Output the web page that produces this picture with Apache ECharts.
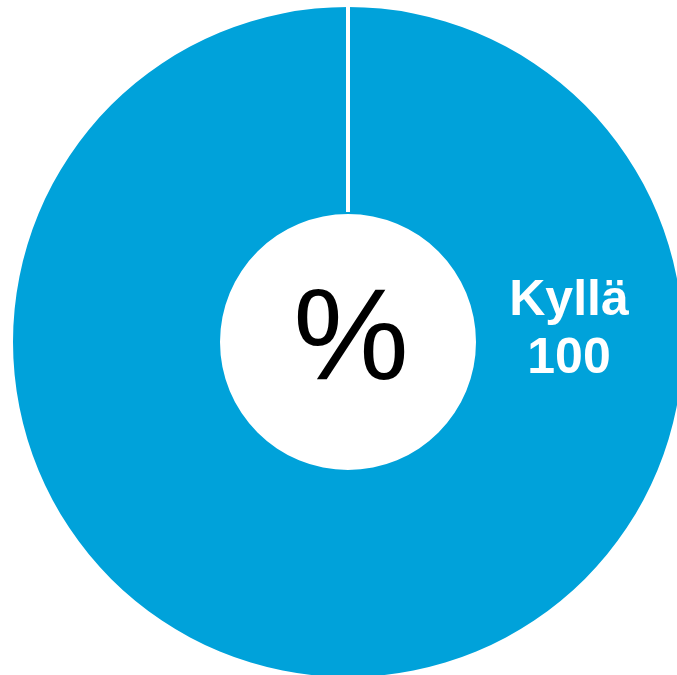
<!DOCTYPE html>
<html>
<head>
<meta charset="utf-8">
<script src="https://cdn.jsdelivr.net/npm/echarts@6/dist/echarts.min.js"></script>
<style>
  html, body { margin: 0; padding: 0; background: #fff; }
</style>
</head>
<body>
<div id="donut" style="width: 677px;height:675px;"></div>
<script>
    // vastaukset
    const categories = ['Kyllä'];
    const values = [100];
    const centerText = '%';

    const chart = echarts.init(document.getElementById('donut'));
    const cx = 348, cy = 342, r0 = 128, r = 335;

    const option = {
        animation: false,
        graphic: [
            {
                type: 'line',
                shape: { x1: cx, y1: cy - r0 - 2, x2: cx, y2: cy - r - 2 },
                style: { stroke: '#fff', lineWidth: 4 },
                z: 100
            },
            {
                type: 'text',
                style: {
                    x: 351, y: 343,
                    text: centerText,
                    fill: '#000',
                    font: '130px "Liberation Sans", Arial, sans-serif',
                    align: 'center',
                    verticalAlign: 'middle'
                },
                z: 100
            }
        ],
        series: [{
            type: 'pie',
            center: [cx, cy],
            radius: [r0, r],
            startAngle: 90,
            clockwise: true,
            silent: true,
            itemStyle: { color: '#00A2DA' },
            label: {
                show: true,
                position: 'inside',
                color: '#fff',
                fontFamily: '"Liberation Sans", Arial, sans-serif',
                fontWeight: 'bold',
                fontSize: 50,
                lineHeight: 58,
                align: 'center',
                formatter: p => p.name + '\n' + p.value
            },
            labelLayout: function () {
                return { x: 569, y: 330, align: 'center', verticalAlign: 'middle' };
            },
            labelLine: { show: false },
            data: categories.map((c, i) => ({ name: c, value: values[i] }))
        }]
    };

    chart.setOption(option);
</script>
</body>
</html>
